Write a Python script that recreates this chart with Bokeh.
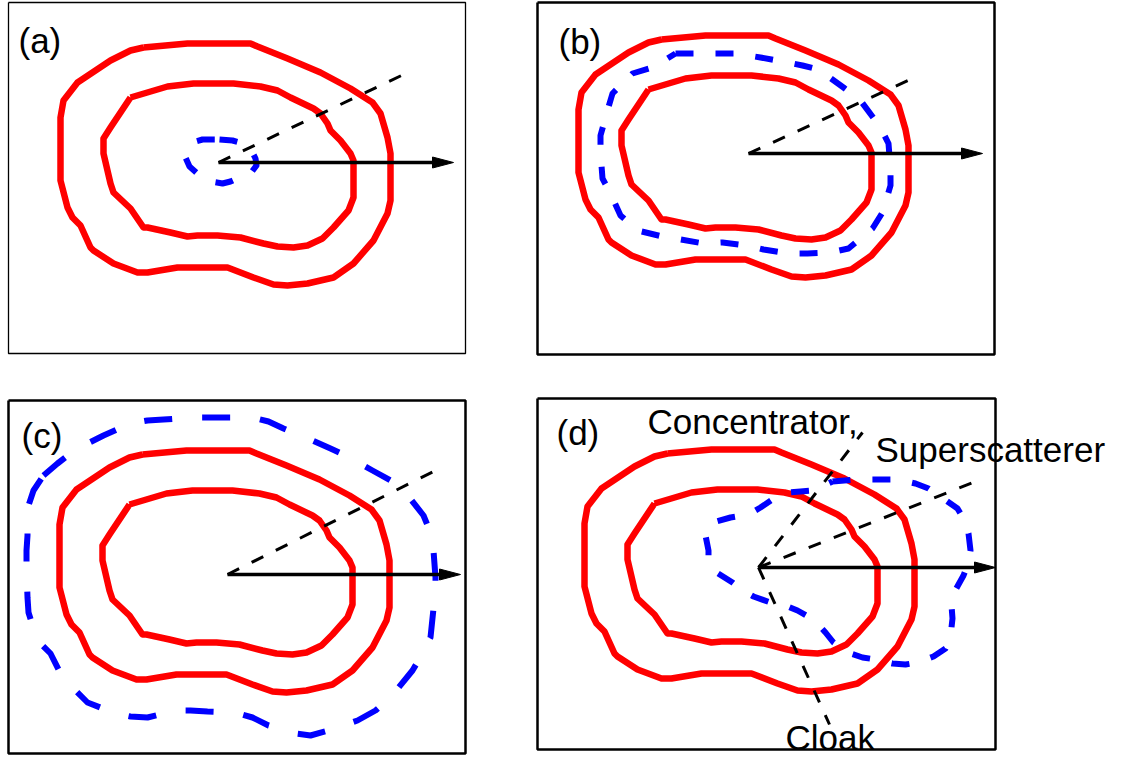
from bokeh.plotting import figure
from bokeh.models import Range1d
from bokeh.core.properties import value
from bokeh.embed import file_html
from bokeh.resources import INLINE

# ---- data (page pixel coordinates) ----
# red contours, as seen in panel (a)
outer_x = [143,187,250,257,287,320,350,372,380,387,390,390,387,373,353,333,307,287,273,253,227,177,147,137,113,93,90,80,72,67,60,60,63,77,110,130,143]
outer_y = [47,43,43,46,58,72,88,102,113,137,153,200,213,240,263,277,283,285,284,277,267,267,272,272,263,250,247,225,217,207,180,117,100,82,60,50,47]
inner_x = [130,167,193,233,260,277,290,313,320,327,330,340,350,353,353,348,333,322,307,293,277,263,240,217,197,187,170,147,143,130,113,110,103,103,110,130]
inner_y = [97,86,83,83,86,90,97,108,113,123,130,140,153,160,197,210,227,238,245,247,246,243,237,235,235,236,232,227,227,208,192,183,153,138,127,97]

panels = ["(a)", "(b)", "(c)", "(d)"]
red_shift = {"(a)": (0, 0), "(b)": (518, -8), "(c)": (-1, 407), "(d)": (524, 406)}

blue_a_x = [219,232,243,251,255,256,250,239,230,222,210,197,189,185,188,195,202,219]
blue_a_y = [139,140,143,150,158,165,173,177,181,183,181,173,166,157,147,141,139,139]

blue_b_x = [675,693,717,735,760,777,802,818,843,860,880,888,890,890,882,872,848,830,807,788,763,746,722,703,680,662,637,620,610,602,600,600,607,612,632,652,675]
blue_b_y = [53,53,53,53,57,60,65,69,87,100,127,143,168,185,212,228,248,252,253,253,249,245,242,243,239,236,230,215,193,178,152,135,110,93,73,67,53]

blue_c_x = [43,57,70,87,103,130,147,163,192,207,222,252,268,283,312,330,345,372,390,405,423,430,433,435,435,433,430,422,412,390,375,357,328,310,295,268,252,235,207,190,175,147,130,115,87,75,62,50,40,33,28,27,26,26,27,27,33,43]
blue_c_y = [475,463,453,443,435,423,420,419,417,417,417,417,421,428,440,448,455,470,480,492,515,532,550,577,592,608,637,653,670,697,710,720,730,735,733,725,717,712,711,710,710,717,716,713,702,690,677,653,643,628,612,597,568,550,535,508,490,475]

blue_d_x = [832,855,873,897,915,928,940,957,964,968,970,968,963,953,951,952,950,945,933,917,905,892,875,862,850,833,825,813,797,785,770,753,742,732,713,708,708,705,712,730,748,760,772,788,800,813,832]
blue_d_y = [481,479,479,479,483,488,496,508,520,533,550,562,575,593,605,618,636,648,656,662,664,663,659,657,653,642,632,619,610,605,602,596,590,582,570,560,550,535,522,517,514,507,499,492,491,490,481]

blue = {"(a)": (blue_a_x, blue_a_y), "(b)": (blue_b_x, blue_b_y),
        "(c)": (blue_c_x, blue_c_y), "(d)": (blue_d_x, blue_d_y)}

# arrow origins, solid arrow tips, dashed line ends
origin = {"(a)": (218, 162), "(b)": (748, 153), "(c)": (227, 574), "(d)": (758, 567)}
solid_tip_x = {"(a)": 453, "(b)": 982, "(c)": 460, "(d)": 995}
dashed_ends = {"(a)": [(403, 74)], "(b)": [(912, 78)], "(c)": [(441, 467)],
               "(d)": [(975, 481), (862, 432), (829, 724)]}

# panel frames: left, right, top, bottom
frames = {"(a)": (8, 465, 2, 353), "(b)": (537, 994, 2, 354),
          "(c)": (8, 465, 400, 753), "(d)": (537, 995, 398, 749)}
frame_w = {"(a)": 1.3, "(b)": 2.5, "(c)": 2.5, "(d)": 2.5}

# text anchors (top of the text box)
label_pos = {"(a)": (18, 40), "(b)": (558, 41), "(c)": (21, 435), "(d)": (556, 432)}
blue_dash = {"(a)": "18 22", "(b)": "18 22", "(c)": "28 30", "(d)": "18 22"}

notes = ["Concentrator,", "Superscatterer", "Cloak"]
notes_x = [647, 875, 785]
notes_y = [421, 449, 737]

# ---- figure ----
W, H = 1122, 757
p = figure(width=W, height=H, x_range=Range1d(0, W), y_range=Range1d(H, 0),
           output_backend="svg", toolbar_location=None, min_border=0,
           x_axis_type=None, y_axis_type=None)
p.xgrid.visible = False
p.ygrid.visible = False
p.outline_line_color = None
p.background_fill_color = "white"
p.border_fill_color = "white"

FONT = value("Liberation Sans")

for k in panels:
    l, r, t, b = frames[k]
    p.line([l, r, r, l, l], [t, t, b, b, t], line_color="black", line_width=frame_w[k])

    dx, dy = red_shift[k]
    for xs, ys in ((outer_x, outer_y), (inner_x, inner_y)):
        p.line([x + dx for x in xs], [y + dy for y in ys], line_color="#ff0000",
               line_width=6.5, line_join="round")

    bx, by = blue[k]
    p.line(bx, by, line_color="#0000ff", line_width=6, line_dash=blue_dash[k],
           line_join="round")

    ox, oy = origin[k]
    for ex, ey in dashed_ends[k]:
        p.line([ox, ex], [oy, ey], line_color="black", line_width=3, line_dash="13 14")

    tx = solid_tip_x[k]
    p.line([ox, tx - 18], [oy, oy], line_color="black", line_width=3.4)
    p.patch([tx, tx - 21, tx - 21], [oy, oy - 5.5, oy + 5.5], fill_color="black",
            line_color="black", line_width=1)

    lx, ly = label_pos[k]
    p.text([lx], [ly], text=[k], text_font=FONT, text_font_size=value("35px"),
           text_baseline="alphabetic", text_align="left", text_color="black")

p.text(notes_x, notes_y, text=notes, text_font=FONT, text_font_size=value("35px"),
       text_baseline="alphabetic", text_align="left", text_color="black")

open("out.html", "w").write(file_html(p, INLINE))
